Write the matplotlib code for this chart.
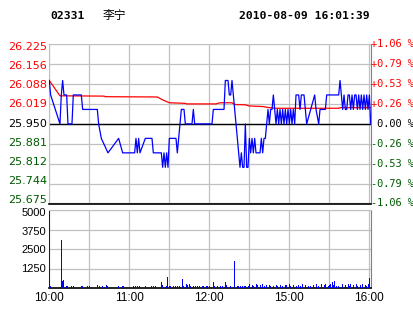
import numpy as np
import matplotlib
matplotlib.use('Agg')
import matplotlib.pyplot as plt
import matplotlib.transforms as mtransforms

# header
code = '02331'
name = '李宁'
stamp = '2010-08-09 16:01:39'

prev_close = 25.95

# minutes from 10:00 (12:30 and 14:30 share minute 150)
price_min = [0, 1, 8, 9, 10, 11, 13, 14, 17, 18, 24, 25, 36, 37, 39, 44, 52, 55, 64, 65,
             66, 67, 68, 72, 77, 78, 83, 84, 85, 86, 87, 88, 89, 90, 95, 96, 97, 98, 99, 101,
             102, 107, 108, 109, 122, 123, 131, 132, 134, 135, 136, 137, 138, 139, 140, 141, 142, 143,
             144, 145, 146, 147, 148, 149, 150, 151, 152, 153, 154, 155, 158, 159, 160, 161, 162, 163,
             164, 165, 166, 167, 168, 169, 170, 171, 172, 173, 174, 175, 176, 177, 178, 179, 180, 181,
             182, 183, 184, 185, 187, 188, 189, 191, 192, 193, 199, 200, 202, 203, 207, 208, 217, 218,
             219, 220, 221, 222, 223, 224, 225, 226, 227, 228, 229, 230, 231, 232, 233, 234, 235, 236,
             237, 238, 239, 240, 241]
price = [26.10, 26.05, 25.95, 26.05, 26.10, 26.05, 26.05, 25.95, 25.95, 26.05, 26.05, 26.00, 26.00, 25.95, 25.90, 25.85, 25.90, 25.85, 25.85, 25.90,
         25.85, 25.90, 25.85, 25.90, 25.90, 25.85, 25.85, 25.85, 25.80, 25.85, 25.80, 25.85, 25.80, 25.90, 25.90, 25.85, 25.90, 25.95, 26.00, 26.00,
         25.95, 25.95, 26.00, 25.95, 25.95, 26.00, 26.00, 26.10, 26.10, 26.05, 26.05, 26.10, 26.05, 26.00, 25.95, 25.90, 25.85, 25.80,
         25.85, 25.80, 25.80, 25.95, 25.80, 25.80, 25.90, 25.85, 25.90, 25.85, 25.90, 25.85, 25.85, 25.90, 25.85, 25.90, 25.90, 25.95,
         26.00, 25.95, 26.00, 26.00, 26.05, 26.00, 25.95, 26.00, 25.95, 26.00, 25.95, 26.00, 25.95, 26.00, 25.95, 26.00, 25.95, 26.00,
         25.95, 26.00, 25.95, 26.05, 26.05, 26.00, 26.05, 26.05, 26.00, 25.95, 26.05, 26.00, 25.95, 26.00, 26.00, 26.05, 26.05, 26.10,
         26.05, 26.00, 26.05, 26.00, 26.00, 26.05, 26.05, 26.00, 26.05, 26.00, 26.05, 26.05, 26.00, 26.05, 26.00, 26.05, 26.00, 26.05,
         26.00, 26.05, 26.00, 26.05, 25.95]

avg_min = [0, 8, 41, 42, 81, 83, 85, 88, 90, 102, 103, 125, 128, 137, 139, 147, 150, 160, 165, 170, 217, 218, 241]
avg_price = [26.100, 26.047, 26.046, 26.044, 26.043, 26.038, 26.033, 26.027, 26.023, 26.021, 26.019, 26.019, 26.023,
             26.023, 26.017, 26.016, 26.012, 26.010, 26.006, 26.004, 26.004, 26.006, 26.006]

vol_min = [0, 1, 9, 10, 11, 13, 14, 17, 18, 24, 25, 29, 30, 36, 38, 40, 43, 44, 52, 55, 56, 63, 65, 66, 68, 72, 77, 78,
           80, 84, 85, 86, 88, 89, 90, 91, 93, 95, 96, 98, 100, 101, 103, 104, 105, 106, 108, 110, 111, 113, 115, 116,
           118, 119, 120, 123, 124, 126, 128, 130, 132, 133, 136, 139, 141, 142, 143, 145, 146, 147, 149, 150, 152, 153,
           155, 156, 158, 160, 161, 163, 165, 166, 168, 170, 171, 173, 175, 177, 178, 180, 181, 183, 185, 187, 188, 190,
           192, 194, 196, 198, 200, 202, 204, 206, 207, 209, 210, 211, 212, 213, 214, 215, 217, 220, 222, 224, 225, 226,
           228, 230, 231, 233, 235, 237, 238, 239, 240]
volume = [4950, 150, 3080, 450, 520, 130, 130, 130, 130, 120, 120, 130, 130, 200, 130, 130, 220, 130, 130, 130, 130, 130, 130, 130, 130, 130, 130, 130,
          130, 380, 200, 100, 130, 700, 130, 130, 130, 130, 130, 130, 580, 130, 300, 200, 250, 150, 150, 130, 130, 130, 130, 130,
          130, 130, 130, 380, 130, 130, 130, 130, 380, 200, 130, 1730, 130, 130, 130, 130, 130, 130, 130, 250, 200, 130,
          250, 200, 200, 250, 130, 200, 200, 130, 130, 200, 130, 200, 130, 200, 200, 250, 130, 200, 130, 200, 130, 250,
          200, 130, 130, 200, 250, 130, 250, 200, 300, 130, 200, 250, 380, 200, 470, 130, 130, 300, 200, 250, 130, 300,
          180, 250, 130, 200, 250, 200, 130, 250, 660]

price_ticks = [25.675, 25.74375, 25.8125, 25.88125, 25.95, 26.01875, 26.0875, 26.15625, 26.225]
price_labels = ['25.675', '25.744', '25.812', '25.881', '25.950', '26.019', '26.088', '26.156', '26.225']
pct_labels = ['-1.06 %', '-0.79 %', '-0.53 %', '-0.26 %', ' 0.00 %', '+0.26 %', '+0.53 %', '+0.79 %', '+1.06 %']
vol_ticks = [1250, 2500, 3750, 5000]
time_ticks = [0, 60, 120, 180, 240]
time_labels = ['10:00', '11:00', '12:00', '15:00', '16:00']

red = '#ff0000'
green = '#005a00'
grid_c = '#c0c0c0'


def label_color(v):
    if v > prev_close + 1e-6:
        return red
    if v < prev_close - 1e-6:
        return green
    return 'black'


fig = plt.figure(figsize=(4.14, 3.14), dpi=100)
W, H = 414.0, 314.0
ax = fig.add_axes([49.3 / W, (H - 203.5) / H, 321.4 / W, 159.2 / H])
axv = fig.add_axes([49.3 / W, (H - 288.3) / H, 321.4 / W, 78.3 / H])

fig.text(50 / W, 1 - 16 / H, code, family='DejaVu Sans Mono', weight='bold', size=8.2, va='center')
fig.text(103 / W, 1 - 16 / H, name, family=['Noto Sans CJK SC', 'DejaVu Sans'], size=8.5, va='center')
fig.text(370 / W, 1 - 16 / H, stamp, family='DejaVu Sans Mono', weight='bold', size=8.2, va='center', ha='right')

# price panel
ax.set_xlim(0, 241)
ax.set_ylim(price_ticks[0], price_ticks[-1])
ax.set_yticks(price_ticks)
ax.set_yticklabels([])
ax.set_xticks(np.arange(0, 241, 30))
ax.set_xticklabels([])
ax.tick_params(length=0)
ax.grid(True, color=grid_c, lw=0.9)
ax.axhline(prev_close, color='black', lw=1.0, zorder=2)
for s in ['left', 'top']:
    ax.spines[s].set_color(grid_c)
ax.spines['right'].set_color('#808080')
ax.spines['bottom'].set_color('black')
ax.spines['bottom'].set_linewidth(1.2)

ax.plot(avg_min, avg_price, color=red, lw=0.9, zorder=3)
ax.plot(price_min, price, color='#0000ff', lw=0.9, zorder=4)

tr = mtransforms.blended_transform_factory(ax.transAxes, ax.transData)
for i, (v, t, p) in enumerate(zip(price_ticks, price_labels, pct_labels)):
    shift = 3.0 - 5.5 * i / 8.0   # labels sit a bit inside the outer grid lines
    trl = mtransforms.offset_copy(tr, fig=fig, x=-2, y=shift, units='dots')
    ax.text(0, v, t, transform=trl, color=label_color(v), family='DejaVu Sans',
            size=8, va='center', ha='right', clip_on=False)
    ax.text(1.002, v, p, transform=tr, color=label_color(v), family='DejaVu Sans Mono',
            size=7.4, va='center', ha='left', clip_on=False)

# volume panel
axv.bar(vol_min, volume, width=0.75, color='#0000ff', zorder=3)
axv.set_xlim(0, 241)
axv.set_ylim(0, 5000)
axv.set_yticks(vol_ticks)
axv.set_yticklabels([])
trv = mtransforms.blended_transform_factory(axv.transAxes, axv.transData)
for v, px in zip(vol_ticks, [0.5, 1, 2, 3.5]):
    trl = mtransforms.offset_copy(trv, fig=fig, x=-3, y=-px, units='dots')
    axv.text(0, v, str(v), transform=trl, family='Liberation Sans', size=8,
             va='center', ha='right', clip_on=False)
axv.set_xticks(np.arange(0, 241, 30))
axv.set_xticklabels([time_labels[time_ticks.index(t)] if t in time_ticks else '' for t in range(0, 241, 30)],
                    family='Liberation Sans', size=8.5)
axv.tick_params(length=0, pad=3)
axv.grid(True, color=grid_c, lw=0.9)
for s in ['left', 'top']:
    axv.spines[s].set_color(grid_c)
axv.spines['right'].set_color('#808080')
axv.spines['bottom'].set_color('black')
axv.spines['bottom'].set_linewidth(1.2)

fig.savefig('out.png', dpi=100)
